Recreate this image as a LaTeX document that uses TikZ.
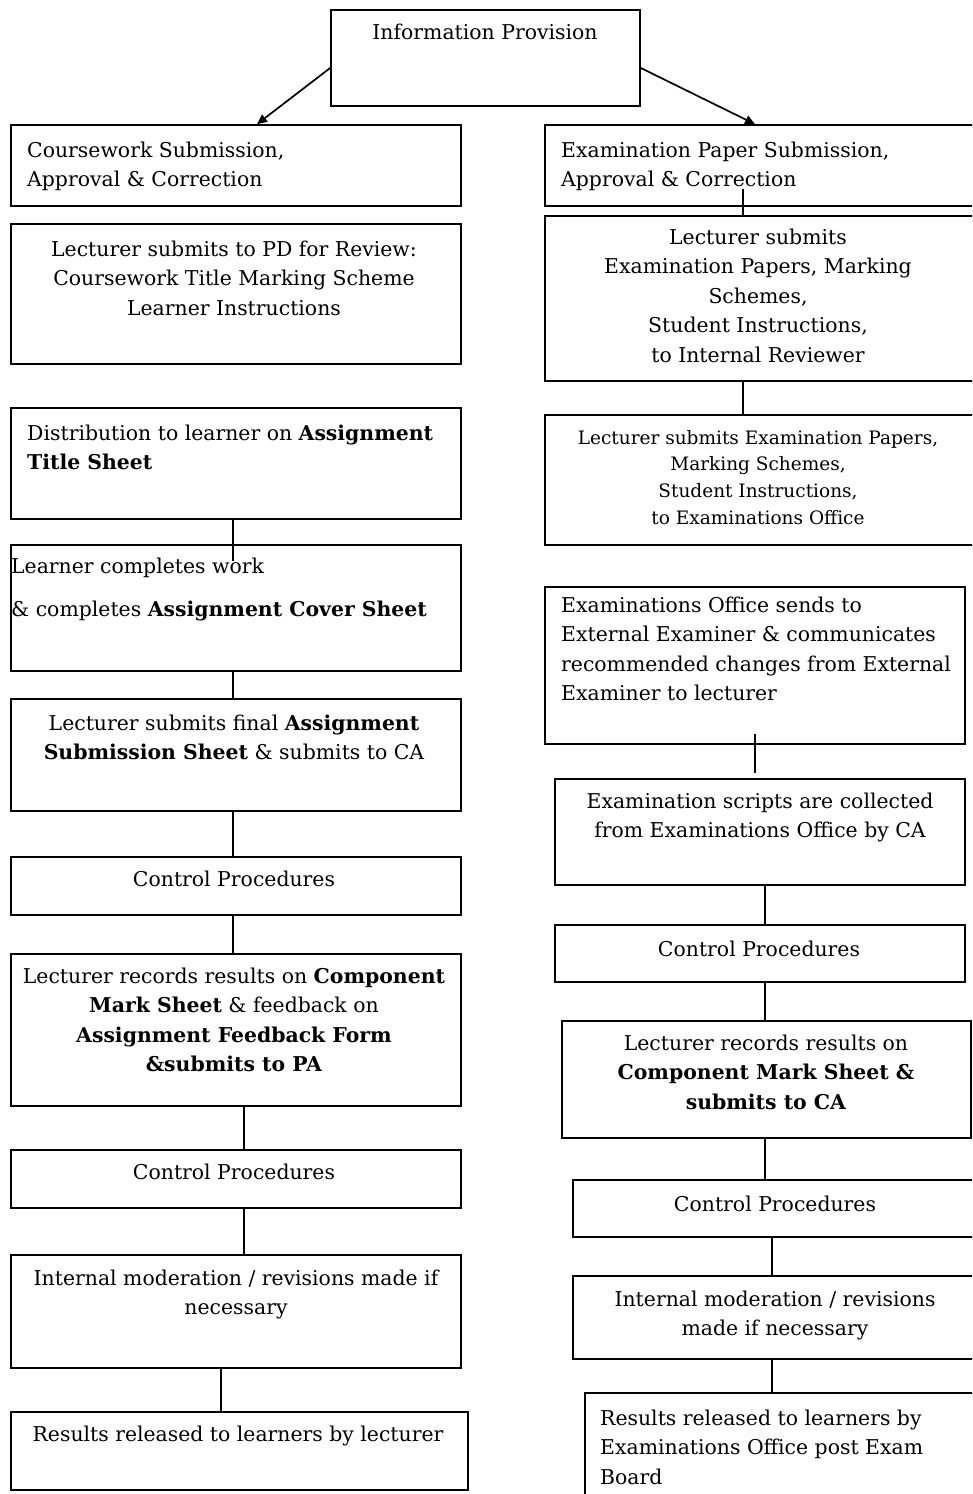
\documentclass[tikz,border=0pt]{standalone}
\usepackage{fontspec}
\setmainfont{DejaVu Serif}
\usetikzlibrary{fit,arrows.meta}
\newcommand\tstrut{\rule{0pt}{16pt}}
\newcommand\fnt{\fontsize{20.4}{29.5}\selectfont}
\newcommand\fsm{\fontsize{18.5}{26.7}\selectfont}
\tikzset{
  box/.style={draw, line width=1.7pt, inner sep=0pt},
  txtc/.style={inner sep=0pt, font=\fnt, align=center, anchor=north},
  txtl/.style={inner sep=0pt, font=\fnt, align=left, anchor=north west},
  conn/.style={line width=1.7pt},
  arr/.style={line width=1.7pt, -{Triangle[length=10pt,width=9pt]}}
}
\begin{document}
\begin{tikzpicture}[x=1pt,y=-1pt]
\useasboundingbox (0,0) rectangle (972,1494);
\clip (0,0) rectangle (972,1494);
% top
\node[box, fit={(331,10) (640,106)}] (T) {};
\node[txtc] (tT) at (485,23) {\tstrut Information Provision};
% left column boxes
\node[box, fit={(11,125) (461,206)}] (L1) {};
\node[box, fit={(11,224) (461,364)}] (L2) {};
\node[box, fit={(11,408) (461,519)}] (L3) {};
\node[box, fit={(11,545) (461,671)}] (L4) {};
\node[box, fit={(11,699) (461,811)}] (L5) {};
\node[box, fit={(11,857) (461,915)}] (L6) {};
\node[box, fit={(11,954) (461,1106)}] (L7) {};
\node[box, fit={(11,1150) (461,1208)}] (L8) {};
\node[box, fit={(11,1255) (461,1368)}] (L9) {};
\node[box, fit={(11,1412) (468,1490)}] (L10) {};
% right column boxes
\node[box, fit={(545,125) (980,206)}] (R1) {};
\node[box, fit={(545,216) (980,381)}] (R2) {};
\node[box, fit={(545,415) (980,545)}] (R3) {};
\node[box, fit={(545,587) (965,744)}] (R4) {};
\node[box, fit={(555,779) (965,885)}] (R5) {};
\node[box, fit={(555,925) (965,982)}] (R6) {};
\node[box, fit={(562,1021) (971,1138)}] (R7) {};
\node[box, fit={(573,1180) (980,1237)}] (R8) {};
\node[box, fit={(573,1276) (980,1359)}] (R9) {};
\node[box, fit={(585,1393) (980,1500)}] (R10) {};
% left texts
\node[txtl] (tL1) at (27,141) {\tstrut Coursework Submission,\\Approval \& Correction};
\node[txtc] (tL2) at (234,240) {\tstrut Lecturer submits to PD for Review:\\Coursework Title Marking Scheme\\Learner Instructions};
\node[txtl] (tL3) at (27,424) {\tstrut Distribution to learner on \textbf{Assignment}\\\textbf{Title Sheet}};
\node[txtl] (tL4) at (11,557) {\tstrut Learner completes work\\[14pt]\& completes \textbf{Assignment Cover Sheet}};
\node[txtc] (tL5) at (234,714) {\tstrut Lecturer submits final \textbf{Assignment}\\\textbf{Submission Sheet} \& submits to CA};
\node[txtc] (tL6) at (234,870) {\tstrut Control Procedures};
\node[txtc] (tL7) at (234,967) {\tstrut Lecturer records results on \textbf{Component}\\\textbf{Mark Sheet} \& feedback on\\\textbf{Assignment Feedback Form}\\\textbf{\&submits to PA}};
\node[txtc] (tL8) at (234,1163) {\tstrut Control Procedures};
\node[txtc] (tL9) at (236,1269) {\tstrut Internal moderation / revisions made if\\necessary};
\node[txtc] (tL10) at (238,1425) {\tstrut Results released to learners by lecturer};
% right texts
\node[txtl] (tR1) at (561,141) {\tstrut Examination Paper Submission,\\Approval \& Correction};
\node[txtc] (tR2) at (758,228) {\tstrut Lecturer submits\\Examination Papers, Marking\\Schemes,\\Student Instructions,\\to Internal Reviewer};
\node[txtc, font=\fsm] (tR3) at (758,428) {\tstrut Lecturer submits Examination Papers,\\Marking Schemes,\\Student Instructions,\\to Examinations Office};
\node[txtl] (tR4) at (561,596) {\tstrut Examinations Office sends to\\External Examiner \& communicates\\recommended changes from External\\Examiner to lecturer};
\node[txtc] (tR5) at (760,792) {\tstrut Examination scripts are collected\\from Examinations Office by CA};
\node[txtc] (tR6) at (759,940) {\tstrut Control Procedures};
\node[txtc] (tR7) at (766,1034) {\tstrut Lecturer records results on\\\textbf{Component Mark Sheet \&}\\\textbf{submits to CA}};
\node[txtc] (tR8) at (775,1195) {\tstrut Control Procedures};
\node[txtc] (tR9) at (775,1290) {\tstrut Internal moderation / revisions\\made if necessary};
\node[txtl] (tR10) at (600,1409) {\tstrut Results released to learners by\\Examinations Office post Exam\\Board};
% connector columns
\coordinate (xa) at (233,0);
\coordinate (xb) at (244,0);
\coordinate (xc) at (221,0);
\coordinate (xr1) at (743,0);
\coordinate (xr2) at (755,0);
\coordinate (xr3) at (765,0);
\coordinate (xr4) at (772,0);
\coordinate (al) at (257,0);
\coordinate (ar) at (755,0);
% arrows
\draw[arr] ([yshift=-10pt]T.west) -- (L1.north -| al);
\draw[arr] ([yshift=-10pt]T.east) -- (R1.north -| ar);
% left connectors
\draw[conn] (L3.south -| xa) -- ++(0,41);
\draw[conn] (L4.south -| xa) -- (L5.north -| xa);
\draw[conn] (L5.south -| xa) -- (L6.north -| xa);
\draw[conn] (L6.south -| xa) -- (L7.north -| xa);
\draw[conn] (L7.south -| xb) -- (L8.north -| xb);
\draw[conn] (L8.south -| xb) -- (L9.north -| xb);
\draw[conn] (L9.south -| xc) -- (L10.north -| xc);
% right connectors
\draw[conn] (R1.south -| xr1) ++(0,-18) -- (R2.north -| xr1);
\draw[conn] (R2.south -| xr1) -- (R3.north -| xr1);
\draw[conn] (R4.south -| xr2) ++(0,-11) -- ++(0,39);
\draw[conn] (R5.south -| xr3) -- (R6.north -| xr3);
\draw[conn] (R6.south -| xr3) -- (R7.north -| xr3);
\draw[conn] (R7.south -| xr3) -- (R8.north -| xr3);
\draw[conn] (R8.south -| xr4) -- (R9.north -| xr4);
\draw[conn] (R9.south -| xr4) -- (R10.north -| xr4);
\end{tikzpicture}
\end{document}
